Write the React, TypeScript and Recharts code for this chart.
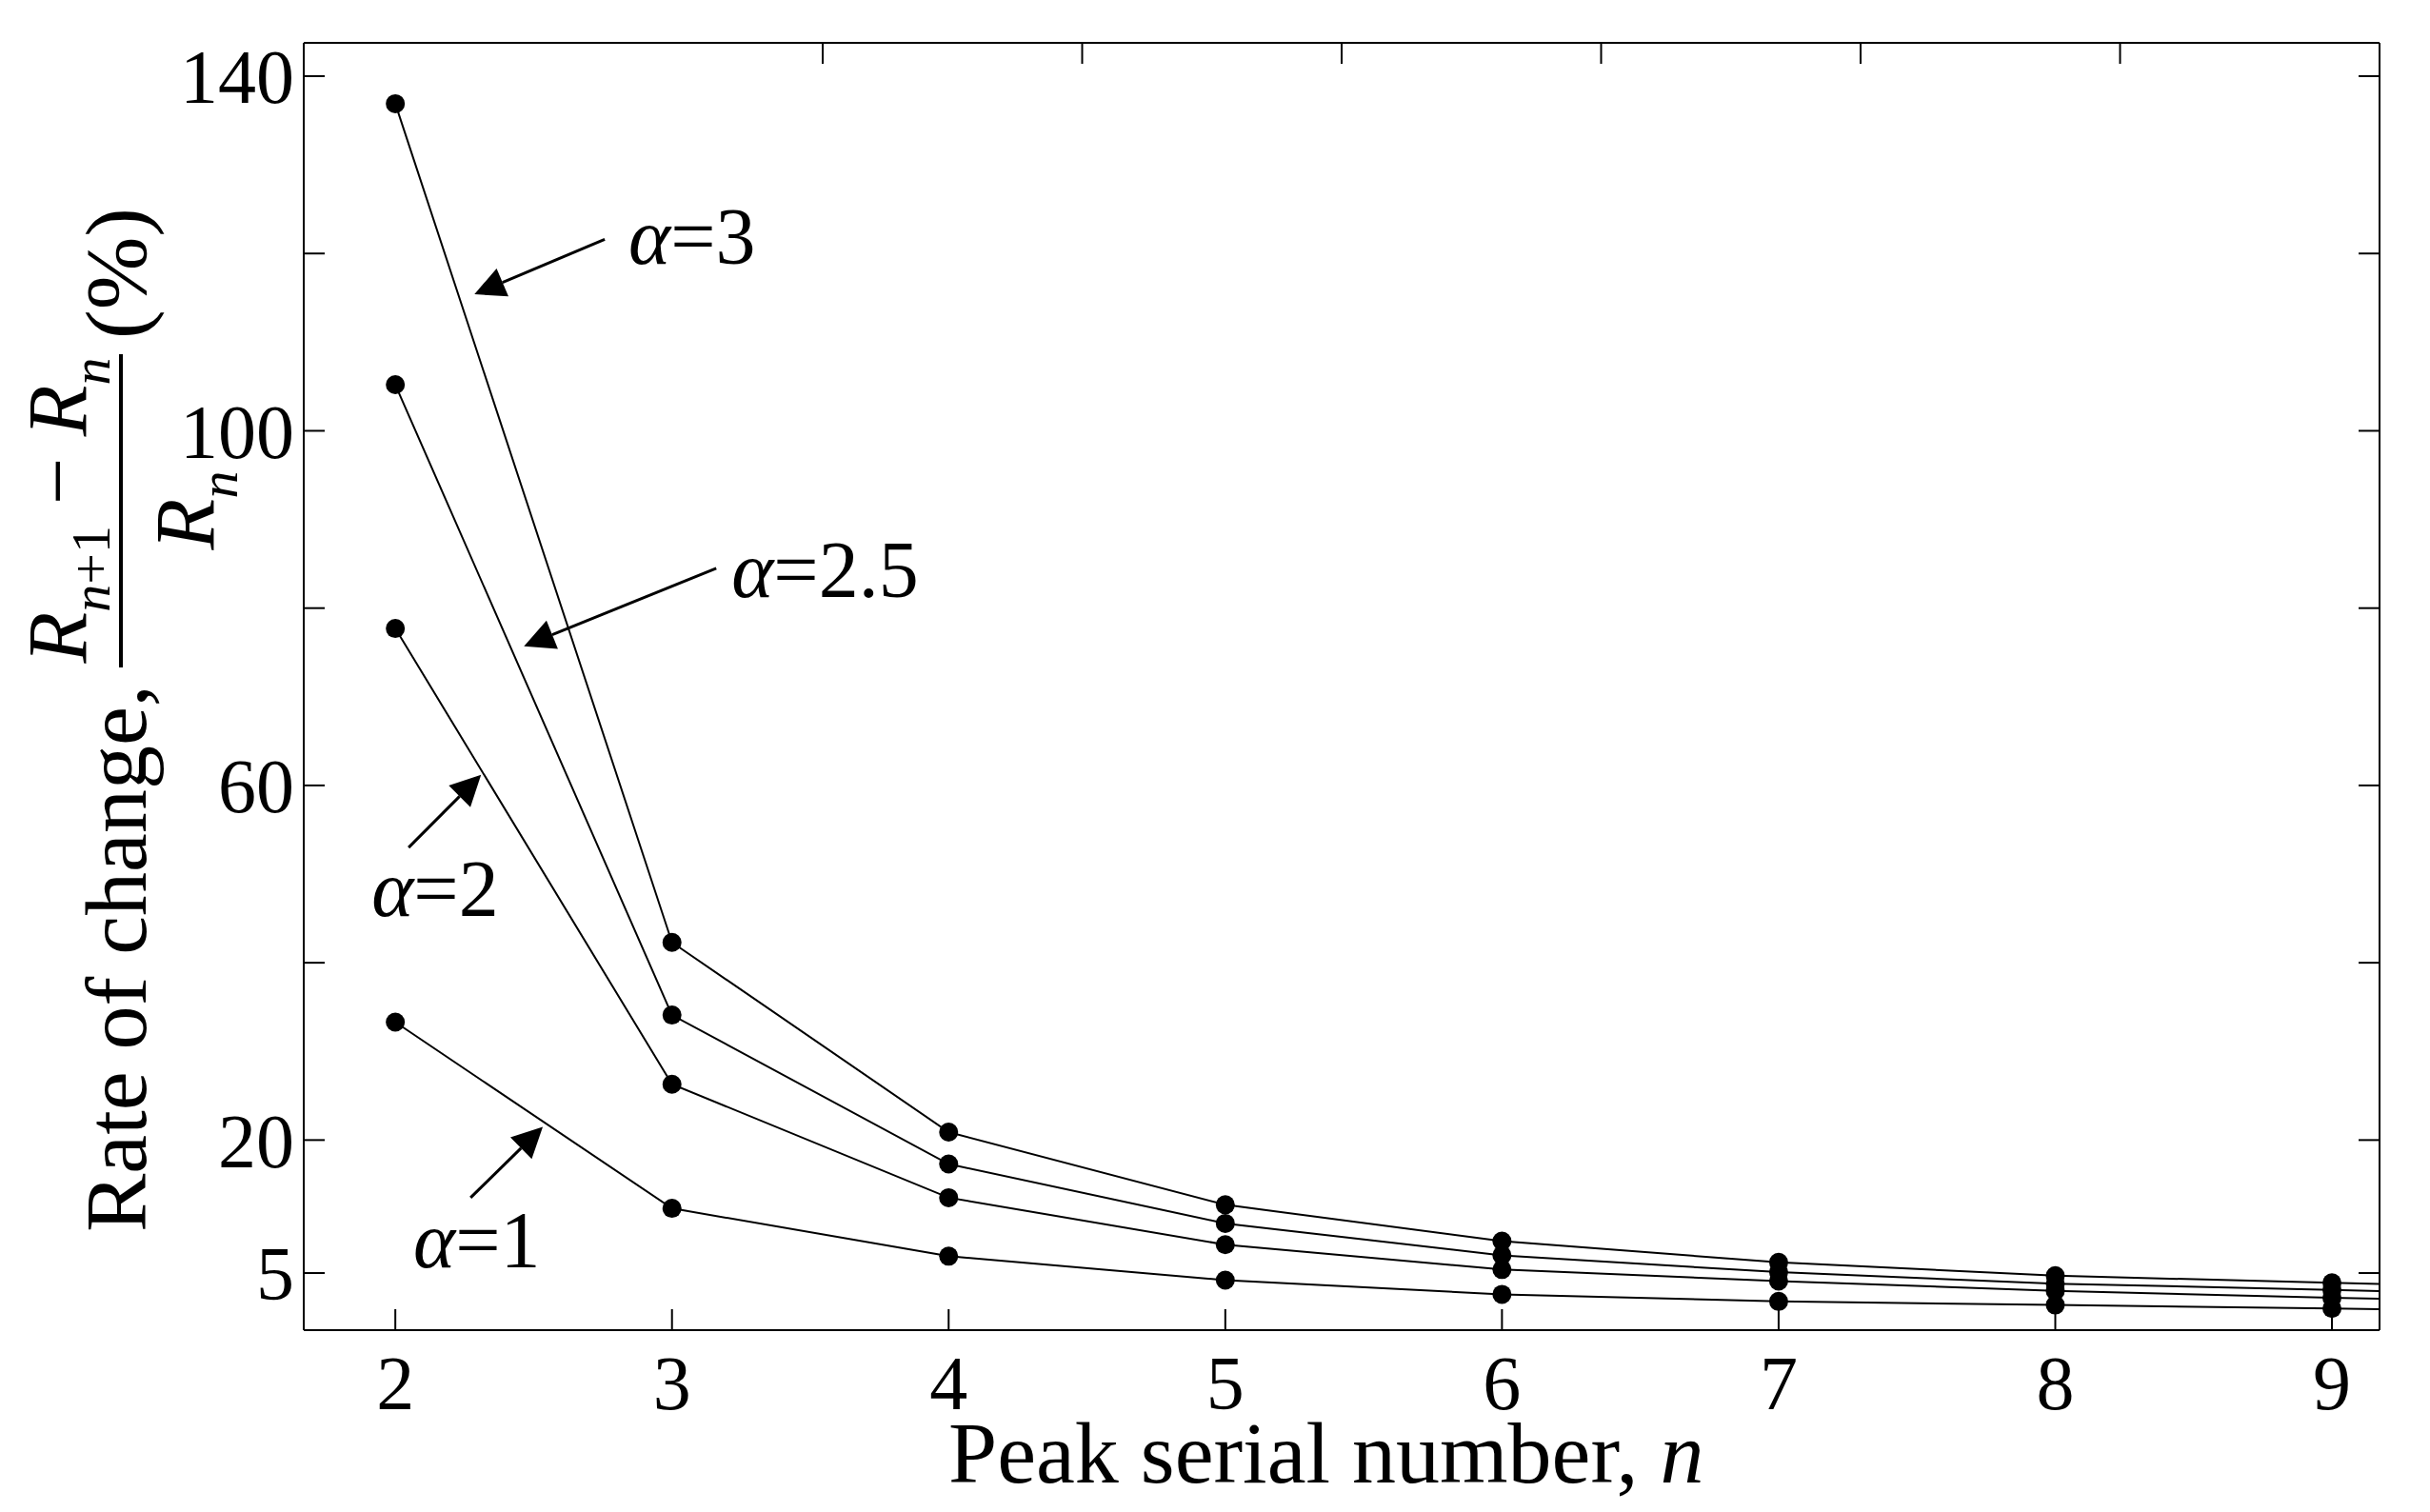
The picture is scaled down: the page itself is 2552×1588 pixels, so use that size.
import { LineChart, Line, XAxis, YAxis, ReferenceLine, ReferenceDot } from "recharts"

const peakNumbers = [2, 3, 4, 5, 6, 7, 8, 9, 10]
const alpha3 = [136.9, 42.3, 20.9, 12.7, 8.6, 6.2, 4.7, 3.9, 3.1]
const alpha25 = [105.2, 34.1, 17.3, 10.6, 7.0, 5.1, 3.8, 3.1, 2.3]
const alpha2 = [77.7, 26.3, 13.5, 8.2, 5.4, 4.1, 3.0, 2.2, 1.7]
const alpha1 = [33.3, 12.3, 6.9, 4.2, 2.6, 1.8, 1.4, 1.0, 0.6]

const xTicks = [2, 3, 4, 5, 6, 7, 8, 9]
const yTicks = [5, 20, 40, 60, 80, 100, 120, 140]
const yLabelled = [5, 20, 60, 100, 140]

// annotation arrows: tail -> tip, and label start (data units)
const notes = [
  { text: "3", tail: [2.757, 121.6], tip: [2.286, 115.4], at: [2.843, 118.8] },
  { text: "2.5", tail: [3.16, 84.5], tip: [2.465, 75.7], at: [3.215, 81.3] },
  { text: "2", tail: [2.048, 53.0], tip: [2.31, 61.2], at: [1.914, 45.3] },
  { text: "1", tail: [2.272, 13.5], tip: [2.533, 21.5], at: [2.065, 5.6] },
]

const data = peakNumbers.map((n, i) => ({
  n,
  a3: alpha3[i],
  a25: alpha25[i],
  a2: alpha2[i],
  a1: alpha1[i],
}))

const FONT = "'Liberation Serif', 'Times New Roman', serif"
const tickStyle = { fontSize: 80, fill: "#000", fontFamily: FONT }

const Arrow = (p: any) => {
  const { x1, y1, x2, y2 } = p
  const dx = x2 - x1
  const dy = y2 - y1
  const len = Math.sqrt(dx * dx + dy * dy)
  const ux = dx / len
  const uy = dy / len
  const hl = 32
  const hw = 16
  const bx = x2 - ux * hl
  const by = y2 - uy * hl
  const pts = `${x2},${y2} ${bx - uy * hw},${by + ux * hw} ${bx + uy * hw},${by - ux * hw}`
  return (
    <g>
      <line x1={x1} y1={y1} x2={bx} y2={by} stroke="#000" strokeWidth={3} />
      <polygon points={pts} fill="#000" />
    </g>
  )
}

const noteLabel = (text: string) => (p: any) => (
  <text x={p.cx} y={p.cy} fontSize={84} fontFamily={FONT} fill="#000">
    <tspan fontStyle="italic">α</tspan>={text}
  </text>
)

const YTitle = () => (
  <g fontFamily={FONT} fill="#000">
    <text transform="rotate(-90)" x={-1294} y={153} fontSize={92}>
      Rate of change,
    </text>
    <text transform="rotate(-90)" x={-536} y={90} fontSize={88} textAnchor="middle">
      <tspan fontStyle="italic">R</tspan>
      <tspan fontSize={58} dy={25} fontStyle="italic">n</tspan>
      <tspan fontSize={58}>+1</tspan>
      <tspan dy={-25}> − </tspan>
      <tspan fontStyle="italic">R</tspan>
      <tspan fontSize={58} dy={25} fontStyle="italic">n</tspan>
    </text>
    <line x1={127} x2={127} y1={372} y2={701} stroke="#000" strokeWidth={4} />
    <text transform="rotate(-90)" x={-536} y={224} fontSize={88} textAnchor="middle">
      <tspan fontStyle="italic">R</tspan>
      <tspan fontSize={58} dy={25} fontStyle="italic">n</tspan>
    </text>
    <text transform="rotate(-90)" x={-356} y={153} fontSize={92}>
      (%)
    </text>
  </g>
)

const XTitle = () => (
  <text x={996} y={1557} fontSize={92} fontFamily={FONT} fill="#000">
    Peak serial number, <tspan fontStyle="italic">n</tspan>
  </text>
)

export default function App() {
  return (
    <div style={{ position: "absolute", left: 0, top: 0, background: "#fff", fontFamily: FONT }}>
      <LineChart width={2552} height={1588} data={data} margin={{ top: 44, right: 52, bottom: 131, left: 0 }}>
        <XAxis
          dataKey="n"
          type="number"
          domain={[1.669, 9.172]}
          allowDataOverflow
          ticks={xTicks}
          height={60}
          tickSize={-22}
          tickMargin={48}
          tick={tickStyle}
          stroke="#000"
          strokeWidth={2}
          label={<XTitle />}
        />
        <XAxis
          xAxisId="top"
          orientation="top"
          type="number"
          domain={[1.669, 9.172]}
          allowDataOverflow
          ticks={xTicks}
          height={1}
          tickSize={-22}
          tickFormatter={() => ""}
          stroke="#000"
          strokeWidth={2}
        />
        <YAxis
          type="number"
          domain={[-1.44, 143.76]}
          allowDataOverflow
          ticks={yTicks}
          width={319}
          tickSize={-22}
          tickMargin={32}
          tick={tickStyle}
          tickFormatter={(v: number) => (yLabelled.includes(v) ? String(v) : "")}
          stroke="#000"
          strokeWidth={2}
          label={<YTitle />}
        />
        <YAxis
          yAxisId="right"
          orientation="right"
          type="number"
          domain={[-1.44, 143.76]}
          allowDataOverflow
          ticks={yTicks}
          width={1}
          tickSize={-22}
          tickFormatter={() => ""}
          stroke="#000"
          strokeWidth={2}
        />
        <Line dataKey="a3" stroke="#000" strokeWidth={2} dot={{ r: 10, fill: "#000", stroke: "none" }} isAnimationActive={false} />
        <Line dataKey="a25" stroke="#000" strokeWidth={2} dot={{ r: 10, fill: "#000", stroke: "none" }} isAnimationActive={false} />
        <Line dataKey="a2" stroke="#000" strokeWidth={2} dot={{ r: 10, fill: "#000", stroke: "none" }} isAnimationActive={false} />
        <Line dataKey="a1" stroke="#000" strokeWidth={2} dot={{ r: 10, fill: "#000", stroke: "none" }} isAnimationActive={false} />
        {notes.map((nt) => (
          <ReferenceLine
            key={"l" + nt.text}
            segment={[
              { x: nt.tail[0], y: nt.tail[1] },
              { x: nt.tip[0], y: nt.tip[1] },
            ]}
            shape={Arrow}
          />
        ))}
        {notes.map((nt) => (
          <ReferenceDot key={"d" + nt.text} x={nt.at[0]} y={nt.at[1]} r={0} shape={noteLabel(nt.text)} />
        ))}
      </LineChart>
    </div>
  )
}
